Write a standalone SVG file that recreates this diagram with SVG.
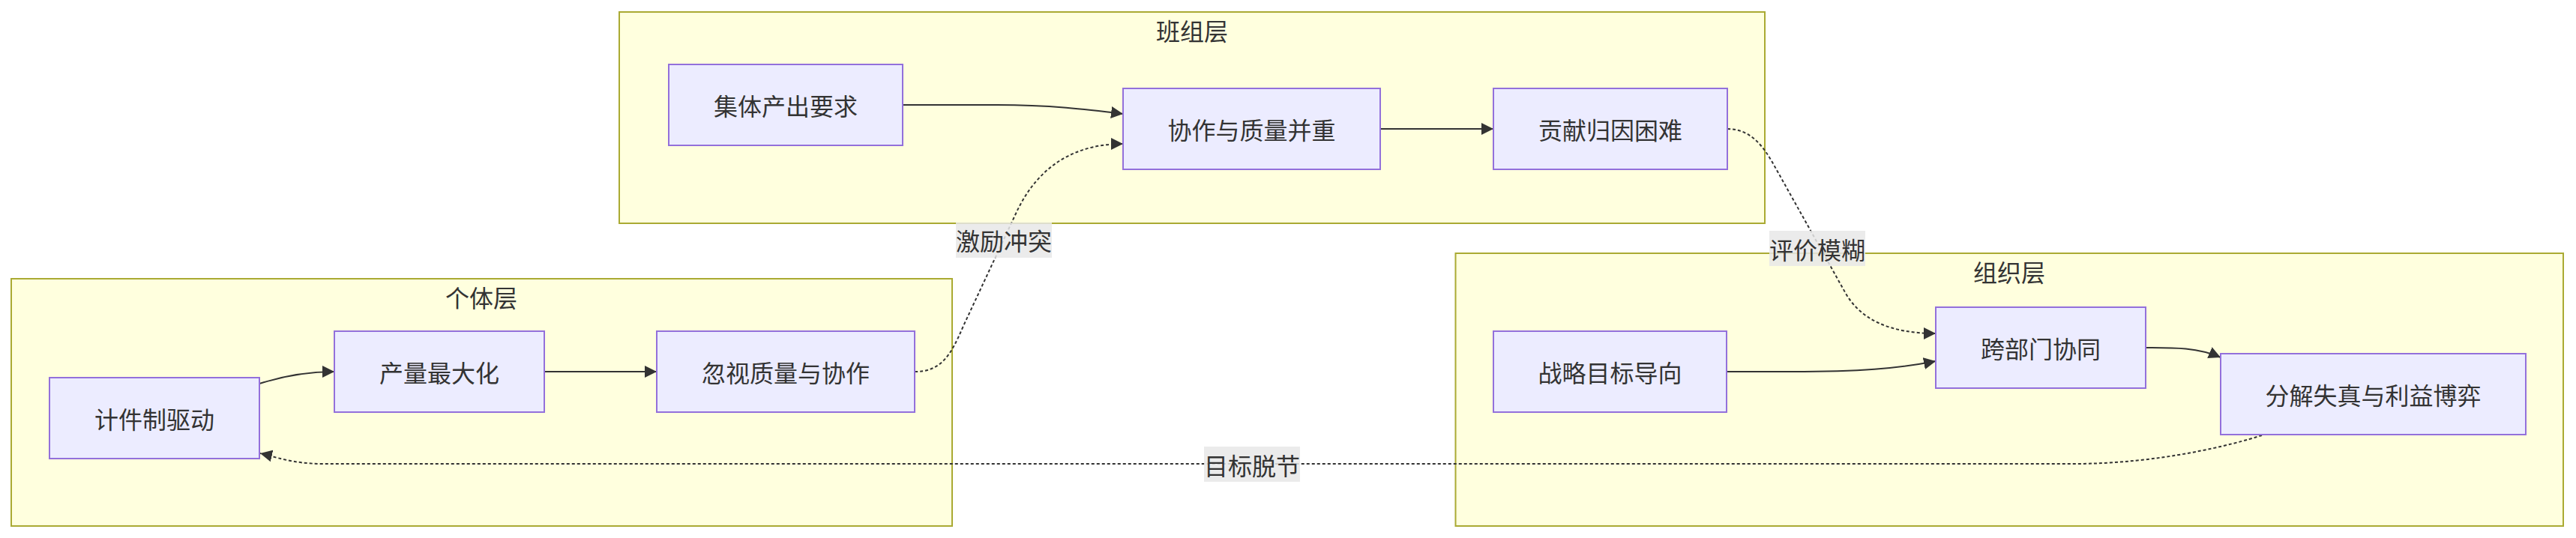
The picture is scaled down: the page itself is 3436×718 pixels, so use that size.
<svg xmlns="http://www.w3.org/2000/svg" width="3436" height="718" viewBox="0 0 3436 718">
<style>
.cluster{fill:#ffffde;stroke:#aaaa33;stroke-width:2}
.node rect{fill:#ececff;stroke:#9370db;stroke-width:2}
text{font-family:"Noto Sans CJK SC","Noto Sans",sans-serif;font-size:32px;fill:#333333;text-anchor:middle;dominant-baseline:central}
.edge{fill:none;stroke:#333333;stroke-width:2}
.dot{stroke-dasharray:4 3}
.lblbg{fill:#e8e8e8;opacity:0.85}
</style>
<defs>
<marker id="arr" viewBox="0 0 10 10" refX="10" refY="5" markerUnits="userSpaceOnUse" markerWidth="16" markerHeight="16" orient="auto">
<path d="M0,0 L10,5 L0,10 z" fill="#333333"/>
</marker>
</defs>
<rect width="3436" height="718" fill="#ffffff"/>
<g id="clusters">
<g id="cluster-individual"><rect class="cluster" x="15" y="372" width="1255" height="330"/><text x="642" y="396">个体层</text></g>
<g id="cluster-team"><rect class="cluster" x="826" y="16" width="1528" height="282"/><text x="1590" y="40">班组层</text></g>
<g id="cluster-org"><rect class="cluster" x="1941.5" y="338" width="1477.5" height="364"/><text x="2680" y="362">组织层</text></g>
</g>
<g id="connectors">
<path class="edge" d="M346,512 C380,501 410,496 446,496" marker-end="url(#arr)"/>
<path class="edge" d="M726,496 L876,496" marker-end="url(#arr)"/>
<path class="edge dot" d="M1220,496 C1255,496 1268,475 1285,435 L1355,285 C1378,235 1420,192 1498,192" marker-end="url(#arr)"/>
<path class="edge" d="M1204,140 L1330,140 C1400,140 1450,146 1498,152" marker-end="url(#arr)"/>
<path class="edge" d="M1841,172 L1992,172" marker-end="url(#arr)"/>
<path class="edge dot" d="M2304,172 C2335,172 2352,195 2366,220 L2461,390 C2481,426 2520,445 2582,445" marker-end="url(#arr)"/>
<path class="edge" d="M2303,496 L2390,496 C2480,496 2530,492 2582,482" marker-end="url(#arr)"/>
<path class="edge" d="M2862,464 C2895,464 2930,463 2962,477" marker-end="url(#arr)"/>
<path class="edge dot" d="M3017,581 C2980,593 2880,619 2766,619 L430,619 C390,619 365,609 347,605" marker-end="url(#arr)"/>
<g id="edge-labels">
<rect class="lblbg" x="1275" y="297" width="128" height="47"/><text x="1339" y="320">激励冲突</text>
<rect class="lblbg" x="2360" y="308" width="128" height="47"/><text x="2424" y="332">评价模糊</text>
<rect class="lblbg" x="1606" y="596" width="128" height="47"/><text x="1670" y="620">目标脱节</text>
</g>
</g>
<g id="nodes">
<g id="n-piece" class="node"><rect x="66" y="504" width="280" height="108"/><text x="206" y="558">计件制驱动</text></g>
<g id="n-output" class="node"><rect x="446" y="442" width="280" height="108"/><text x="586" y="496">产量最大化</text></g>
<g id="n-ignore" class="node"><rect x="876" y="442" width="344" height="108"/><text x="1048" y="496">忽视质量与协作</text></g>
<g id="n-collective" class="node"><rect x="892" y="86" width="312" height="108"/><text x="1048" y="140">集体产出要求</text></g>
<g id="n-coop" class="node"><rect x="1498" y="118" width="343" height="108"/><text x="1669.5" y="172">协作与质量并重</text></g>
<g id="n-attrib" class="node"><rect x="1992" y="118" width="312" height="108"/><text x="2148" y="172">贡献归因困难</text></g>
<g id="n-strategy" class="node"><rect x="1992" y="442" width="311" height="108"/><text x="2147.5" y="496">战略目标导向</text></g>
<g id="n-cross" class="node"><rect x="2582" y="410" width="280" height="108"/><text x="2722" y="464">跨部门协同</text></g>
<g id="n-distort" class="node"><rect x="2962" y="472" width="407" height="108"/><text x="3165.5" y="526">分解失真与利益博弈</text></g>
</g>
</svg>
